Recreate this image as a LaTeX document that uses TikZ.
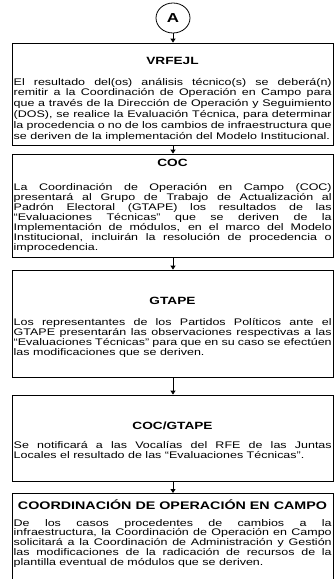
\documentclass[tikz,border=0pt]{standalone}
\usepackage{fontspec}
\setmainfont{Liberation Sans}
\newfontfamily\bodyf[FakeStretch=1.3]{Liberation Sans}
\usetikzlibrary{arrows.meta,shapes.geometric}
\newcommand\jline[1]{\makebox[\linewidth][s]{#1}\par}
\newcommand\lline[1]{#1\par}
\tikzset{
  boxst/.style={draw, line width=0.8pt, rectangle, inner sep=0pt, minimum width=321pt},
  titlest/.style={anchor=base, inner sep=0pt, font=\bodyf\bfseries\fontsize{10.5}{12}\selectfont},
  bodyst/.style={anchor=base west, inner sep=0pt},
  arr/.style={line width=0.8pt, -{Triangle[width=5pt,length=4pt]}}
}
\newcommand\bodytext[2][10]{\parbox[t]{318pt}{\bodyf\fontsize{9.6}{#1}\selectfont\parindent0pt\parskip0pt #2}}
\begin{document}
\begin{tikzpicture}[x=1pt,y=-1pt]
\useasboundingbox (0,0) rectangle (336,579);
% connector A
\node[draw, ellipse, line width=0.8pt, minimum width=34pt, minimum height=30pt, inner sep=0pt,
  font=\bodyf\bfseries\fontsize{13}{14}\selectfont] (A) at (173,18) {A};
% box 1
\node[boxst, minimum height=102pt] (b1) at (172.5,94) {};
\node[titlest] (h1) at (172.5,64) {VRFEJL};
\node[bodyst] (t1) at (13.5,85) {\bodytext[10.8]{%
\jline{El resultado del(os) análisis técnico(s) se deberá(n)}
\jline{remitir a la Coordinación de Operación en Campo para}
\jline{que a través de la Dirección de Operación y Seguimiento}
\jline{(DOS), se realice la Evaluación Técnica, para determinar}
\jline{la procedencia o no de los cambios de infraestructura que}
\lline{se deriven de la implementación del Modelo Institucional.}}};
% box 2
\node[boxst, minimum height=103pt] (b2) at (172.5,205.5) {};
\node[titlest] (h2) at (172.5,166) {COC};
\node[bodyst] (t2) at (13.5,190) {\bodytext[10]{%
\jline{La Coordinación de Operación en Campo (COC)}
\jline{presentará al Grupo de Trabajo de Actualización al}
\jline{Padrón Electoral (GTAPE) los resultados de las}
\jline{“Evaluaciones Técnicas” que se deriven de la}
\jline{Implementación de módulos, en el marco del Modelo}
\jline{Institucional, incluirán la resolución de procedencia o}
\lline{improcedencia.}}};
% box 3
\node[boxst, minimum height=107pt] (b3) at (172.5,323.5) {};
\node[titlest] (h3) at (172.5,304) {GTAPE};
\node[bodyst] (t3) at (13.5,325) {\bodytext[10]{%
\jline{Los representantes de los Partidos Políticos ante el}
\jline{GTAPE presentarán las observaciones respectivas a las}
\jline{“Evaluaciones Técnicas” para que en su caso se efectúen}
\lline{las modificaciones que se deriven.}}};
% box 4
\node[boxst, minimum height=86pt] (b4) at (172.5,438) {};
\node[titlest] (h4) at (172.5,429) {COC/GTAPE};
\node[bodyst] (t4) at (13.5,448) {\bodytext[10]{%
\jline{Se notificará a las Vocalías del RFE de las Juntas}
\lline{Locales el resultado de las “Evaluaciones Técnicas”.}}};
% box 5 (cut at the bottom)
\coordinate (b5) at (172.5,493);
\draw[line width=0.8pt] (12,579) -- (12,493) -- (333,493) -- (333,579);
\node[titlest, font=\bodyf\bfseries\fontsize{11}{12}\selectfont] (h5) at (172.5,509) {COORDINACIÓN DE OPERACIÓN EN CAMPO};
\node[bodyst] (t5) at (13.5,526) {\bodytext[9.8]{%
\jline{De los casos procedentes de cambios a la}
\jline{infraestructura, la Coordinación de Operación en Campo}
\jline{solicitará a la Coordinación de Administración y Gestión}
\jline{las modificaciones de la radicación de recursos de la}
\lline{plantilla eventual de módulos que se deriven.}}};
% connectors
\draw[arr] (A.south) -- (A.south |- b1.north);
\draw[arr] (b1.south -| A.south) -- (b2.north -| A.south);
\draw[arr] (b2.south -| A.south) -- (b3.north -| A.south);
\draw[arr] (b3.south -| A.south) -- (b4.north -| A.south);
\draw[arr] (b4.south -| A.south) -- (b5 -| A.south);
\end{tikzpicture}
\end{document}
